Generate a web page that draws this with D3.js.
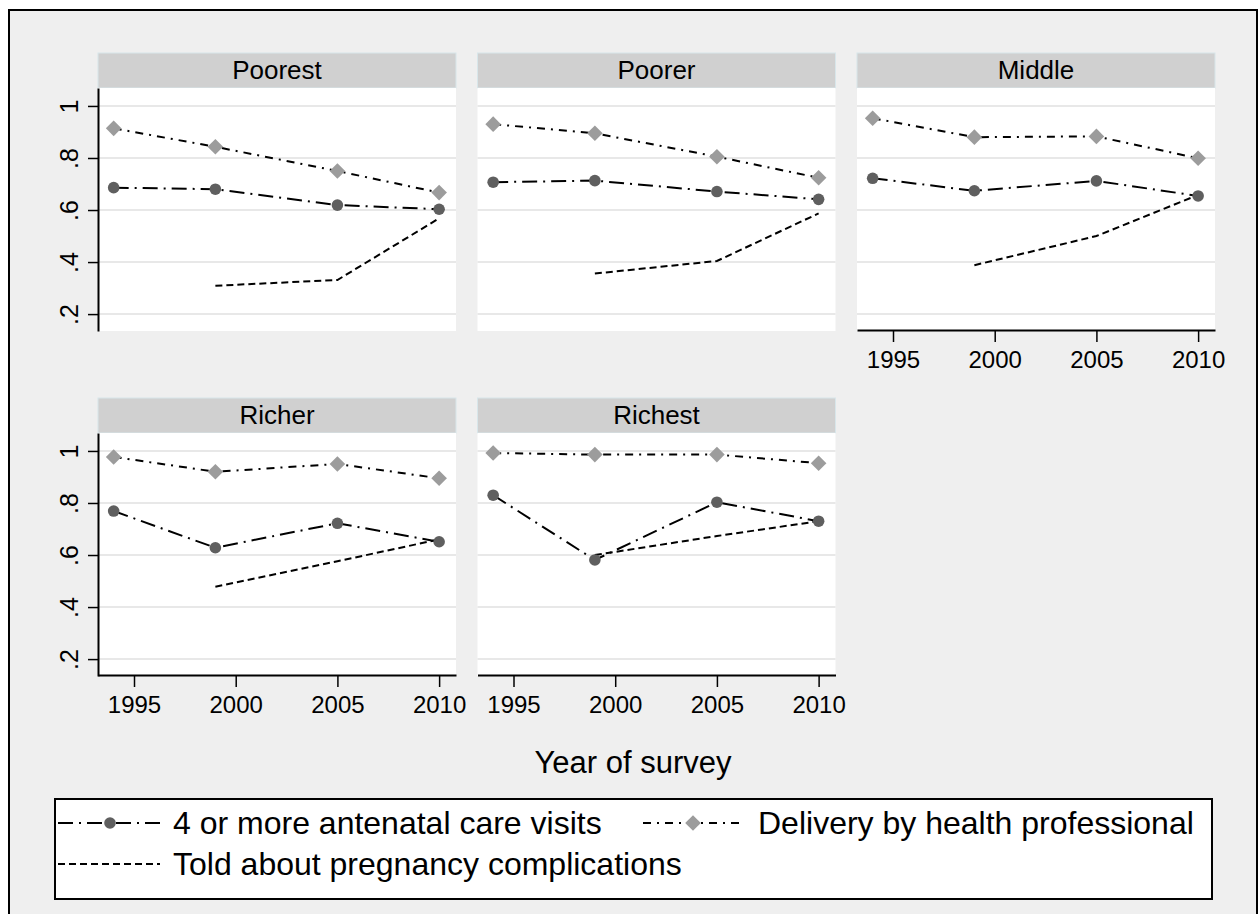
<!DOCTYPE html>
<html>
<head>
<meta charset="utf-8">
<script src="https://cdn.jsdelivr.net/npm/d3@7"></script>
<style>
  body { margin: 0; background: #fff; }
  text { font-family: "Liberation Sans", Arial, sans-serif; fill: #000; }
</style>
</head>
<body>
<script>
// wealth quintiles, one panel each
const groups = ["Poorest", "Poorer", "Middle", "Richer", "Richest"];
const years = [1994, 1999, 2005, 2010];

// 4 or more antenatal care visits
const anc = [
  [0.686, 0.680, 0.619, 0.603],
  [0.707, 0.713, 0.671, 0.641],
  [0.722, 0.674, 0.712, 0.654],
  [0.769, 0.628, 0.722, 0.651],
  [0.830, 0.581, 0.803, 0.730]
];
// delivery by health professional
const delivery = [
  [0.914, 0.843, 0.750, 0.667],
  [0.930, 0.895, 0.805, 0.724],
  [0.953, 0.880, 0.883, 0.799],
  [0.977, 0.920, 0.950, 0.895],
  [0.992, 0.986, 0.986, 0.953]
];
// told about pregnancy complications (not asked in 1994)
const told = [
  [null, 0.309, 0.331, 0.568],
  [null, 0.356, 0.404, 0.587],
  [null, 0.388, 0.500, 0.658],
  [null, 0.478, 0.576, 0.660],
  [null, 0.600, 0.673, 0.730]
];

const xTicks = [1995, 2000, 2005, 2010];
const yTicks = [0.2, 0.4, 0.6, 0.8, 1];
const legendLabels = ["4 or more antenatal care visits", "Delivery by health professional", "Told about pregnancy complications"];

const W = 1259, H = 914;
const plotW = 358, plotH = 243, stripH = 35;
const colX = [98, 477.5, 857];
const rowY = [53, 398];

const svg = d3.select("body").append("svg").attr("width", W).attr("height", H);

svg.append("rect").attr("width", W).attr("height", H).attr("fill", "#fff");
svg.append("rect")
  .attr("x", 9).attr("y", 10).attr("width", 1248).attr("height", 930)
  .attr("fill", "#efefef").attr("stroke", "#000").attr("stroke-width", 2);

const x = d3.scaleLinear().domain([1993.23, 2010.83]).range([0, plotW]);
const y = d3.scaleLinear().domain([0.135, 1.069]).range([plotH, 0]);

const series = [
  { values: anc, dash: "15,6,2,6", marker: "circle", color: "#5f5f5f" },
  { values: delivery, dash: "8,6,2,6", marker: "diamond", color: "#9c9c9c" },
  { values: told, dash: "7,4", marker: null }
];

const line = d3.line()
  .defined(d => d.v != null)
  .x(d => x(d.year))
  .y(d => y(d.v));

const diamond = "M0,-7.8L7.8,0L0,7.8L-7.8,0Z";

function yFmt(d) {
  return d === 1 ? "1" : d3.format(".1f")(d).replace("0.", ".");
}

groups.forEach((name, i) => {
  const col = i % 3, row = Math.floor(i / 3);
  const g = svg.append("g")
    .attr("transform", `translate(${colX[col]}, ${rowY[row] + stripH})`);

  // strip
  g.append("rect")
    .attr("x", 0).attr("y", -stripH).attr("width", plotW).attr("height", stripH)
    .attr("fill", "#d0d0d0").attr("stroke", "#d8e6ea").attr("stroke-width", 1);
  g.append("text")
    .attr("x", plotW / 2).attr("y", -9)
    .attr("text-anchor", "middle")
    .attr("font-size", 26)
    .text(name);

  g.append("rect").attr("width", plotW).attr("height", plotH).attr("fill", "#fff");

  g.selectAll(".grid").data(yTicks).enter().append("line")
    .attr("x1", 0).attr("x2", plotW)
    .attr("y1", d => y(d)).attr("y2", d => y(d))
    .attr("stroke", "#e8e8e8").attr("stroke-width", 2);

  if (col === 0) {
    const ax = g.append("g")
      .call(d3.axisLeft(y).tickValues(yTicks).tickSize(10).tickSizeOuter(0).tickFormat(yFmt));
    ax.select(".domain").attr("stroke", "#000").attr("stroke-width", 2);
    ax.selectAll(".tick line").attr("stroke", "#000").attr("stroke-width", 1.5);
    ax.selectAll(".tick text")
      .attr("x", 0).attr("y", 0).attr("dy", 0)
      .attr("text-anchor", "middle")
      .attr("transform", "translate(-20,0) rotate(-90)")
      .attr("font-size", 25)
      .attr("font-family", null)
      .attr("fill", "#000");
  }

  if (row === 1 || col === 2) {
    const ax = g.append("g")
      .attr("transform", `translate(0, ${plotH - 1})`)
      .call(d3.axisBottom(x).tickValues(xTicks).tickSize(12).tickSizeOuter(0).tickFormat(d3.format("d")));
    ax.select(".domain").attr("stroke", "#000").attr("stroke-width", 2);
    ax.selectAll(".tick line").attr("stroke", "#000").attr("stroke-width", 1.5);
    ax.selectAll(".tick text")
      .attr("y", 21)
      .attr("font-size", 24)
      .attr("font-family", null)
      .attr("fill", "#000");
  }

  series.forEach(s => {
    const pts = years.map((yr, j) => ({ year: yr, v: s.values[i][j] }));
    g.append("path")
      .datum(pts)
      .attr("d", line)
      .attr("fill", "none")
      .attr("stroke", "#000")
      .attr("stroke-width", 2)
      .attr("stroke-dasharray", s.dash);
  });

  series.forEach(s => {
    if (!s.marker) return;
    const pts = years.map((yr, j) => ({ year: yr, v: s.values[i][j] })).filter(d => d.v != null);
    if (s.marker === "circle") {
      g.selectAll(null).data(pts).enter().append("circle")
        .attr("cx", d => x(d.year)).attr("cy", d => y(d.v)).attr("r", 5.8)
        .attr("fill", s.color);
    } else {
      g.selectAll(null).data(pts).enter().append("path")
        .attr("d", diamond)
        .attr("transform", d => `translate(${x(d.year)}, ${y(d.v)})`)
        .attr("fill", s.color);
    }
  });
});

svg.append("text")
  .attr("x", 633).attr("y", 773)
  .attr("text-anchor", "middle")
  .attr("font-size", 31)
  .text("Year of survey");

// legend
const lg = svg.append("g");
lg.append("rect")
  .attr("x", 55).attr("y", 799).attr("width", 1157).attr("height", 100)
  .attr("fill", "#fff").attr("stroke", "#000").attr("stroke-width", 2);

const legendItems = [
  { s: series[0], label: legendLabels[0], kx: 58, ky: 823 },
  { s: series[1], label: legendLabels[1], kx: 643, ky: 823 },
  { s: series[2], label: legendLabels[2], kx: 58, ky: 864 }
];

legendItems.forEach(it => {
  lg.append("line")
    .attr("x1", it.kx).attr("x2", it.kx + 102)
    .attr("y1", it.ky).attr("y2", it.ky)
    .attr("stroke", "#000").attr("stroke-width", 2)
    .attr("stroke-dasharray", it.s.dash);
  if (it.s.marker === "circle") {
    lg.append("circle").attr("cx", it.kx + 52).attr("cy", it.ky).attr("r", 5.8).attr("fill", it.s.color);
  } else if (it.s.marker === "diamond") {
    lg.append("path").attr("d", diamond)
      .attr("transform", `translate(${it.kx + 50}, ${it.ky})`)
      .attr("fill", it.s.color);
  }
  lg.append("text")
    .attr("x", it.kx + 115).attr("y", it.ky + 11)
    .attr("font-size", 32)
    .text(it.label);
});
</script>
</body>
</html>
